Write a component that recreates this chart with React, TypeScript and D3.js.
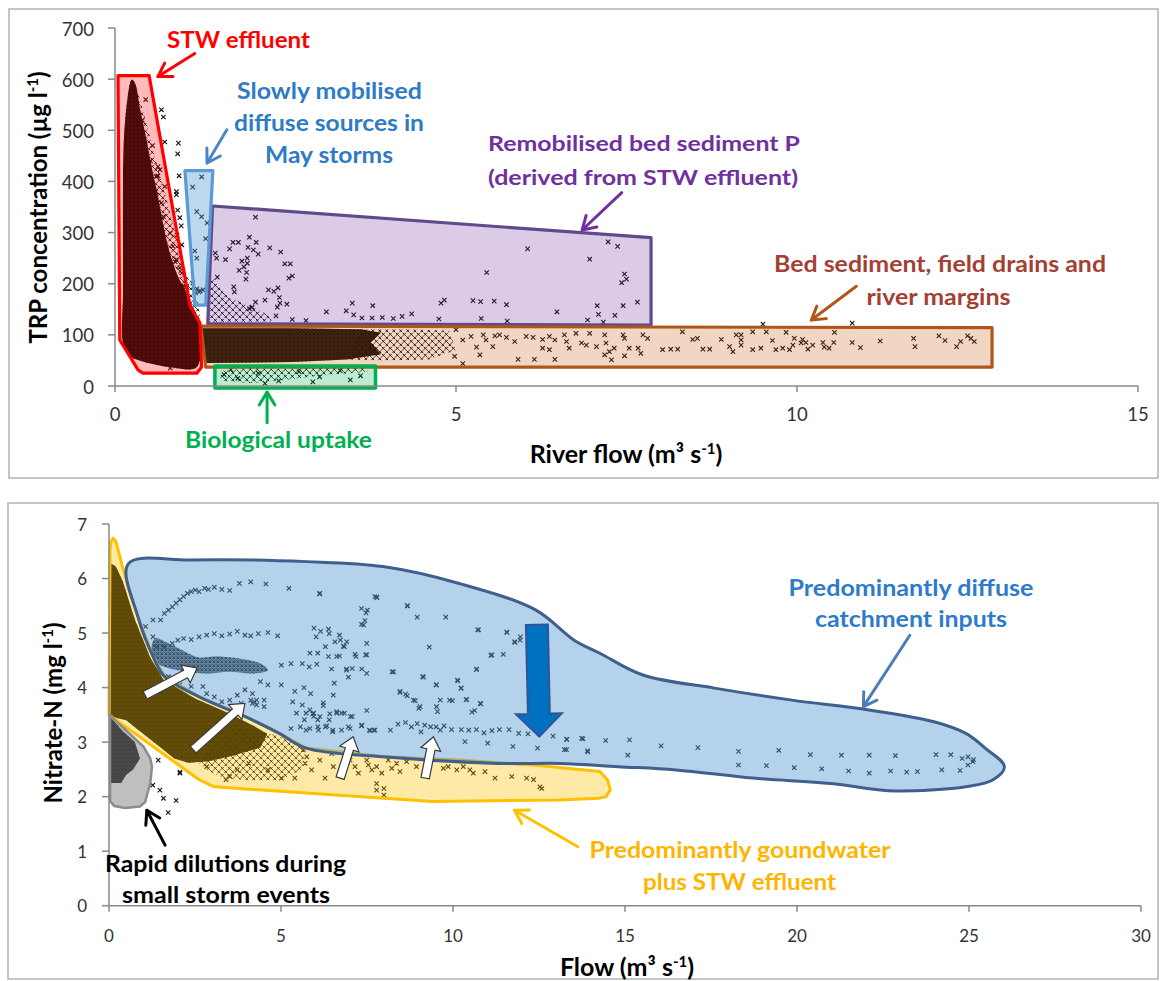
import React from 'react';
import * as d3 from 'd3';

type P = [number, number];

// ---------------- TOP PANEL DATA (x: river flow m3/s, y: TRP ug/l) ----------------
const topXTicks = [0, 5, 10, 15];
const topYTicks = [0, 100, 200, 300, 400, 500, 600, 700];

// outlines of the dense masses of overlapping markers
const stwCore: P[] = [[0.245,599],[0.15,520],[0.12,440],[0.117,378],[0.117,182],[0.117,84],[0.2,60],[0.41,48],[0.81,37],[1.2,37],[1.22,129],[1.1,165],[1.05,182],[0.92,215],[0.78,272],[0.7,320],[0.62,378],[0.55,420],[0.47,476],[0.37,540],[0.29,593]];
const stwHalo: P[] = [[0.3,590],[0.45,520],[0.6,440],[0.75,370],[0.9,290],[1.05,220],[1.2,170],[1.25,130],[1.05,182],[0.78,272],[0.62,378],[0.47,476]];
const purpleCore: P[] = [[1.36,205],[1.46,210],[1.56,188],[1.68,172],[1.9,162],[2.09,150],[2.25,138],[2.3,126],[1.36,125]];
const brownCore: P[] = [[1.28,113],[2.6,113],[3.6,111],[3.9,104],[3.75,85],[3.9,62],[3.4,52],[2.6,47],[1.33,45]];
const brownCore2: P[] = [[3.6,111],[4.3,111],[4.9,108],[5.0,70],[4.6,52],[3.9,50],[3.4,52]];
const greenCore: P[] = [[1.55,30],[2.0,35],[2.5,33],[3.0,36],[3.7,38],[3.7,28],[3.0,20],[2.5,12],[2.0,6],[1.55,10]];

const topPoints: P[] = [
  [0.68,540],[0.71,526],[0.73,477],[0.93,475],[0.92,454],[0.94,411],[0.63,429],[0.63,411],[0.9,380],[0.9,374],[0.92,344],[0.95,329],[0.97,313],[0.91,295],[0.98,276],[0.88,243],[0.95,231],[0.83,207],[1.01,196],[0.78,168],[1.05,168],
  [0.66,423],[0.61,410],[0.73,390],[0.68,358],[0.71,331],[0.81,299],[0.85,273],[0.9,247],[0.98,221],[1.05,194],[0.45,560],[0.4,520],[0.55,470],[0.52,440],[0.6,380],[0.7,300],[0.75,260],[0.8,230],[0.95,180],[1.1,150],[1.15,140],[1.12,130],[0.81,35],[0.88,39],
  [1.14,389],[1.27,409],[1.2,341],[1.27,331],[1.35,319],[1.33,288],[1.17,264],[1.2,250],[1.14,201],[1.2,190],[1.25,186],[1.29,188],[1.23,184],[1.18,182],
  [2.06,330],[1.73,281],[1.81,281],[1.97,291],[2.07,281],[1.68,268],[1.95,271],[2.03,266],[2.1,258],[2.27,270],[2.43,262],[1.47,260],[1.49,250],[1.62,247],[1.86,244],[1.94,250],[1.94,240],[1.89,233],[1.82,226],[1.93,222],[1.92,209],[2.49,239],[2.57,239],[2.55,211],[2.6,215],[1.5,213],[1.74,194],[1.75,184],[2.25,188],[2.33,185],[2.39,192],[2.41,173],[2.42,162],[2.52,160],[2.38,154],[2.2,168],[2.06,164],[2.01,154],[1.97,151],[2.36,137],[2.6,130],[2.8,128],
  [3.1,145],[3.39,147],[3.48,162],[3.5,139],[3.78,157],[3.62,133],[3.77,133],[3.92,134],[4.08,132],[4.21,136],[4.35,141],[4.75,131],[4.78,162],[4.83,168],
  [6.05,268],[5.45,222],[6.96,248],[7.23,282],[7.37,273],[7.47,219],[7.5,209],[7.43,202],[5.25,167],[5.36,165],[5.56,166],[5.74,159],[5.37,132],[5.75,127],[6.48,145],[7.07,157],[7.45,157],[7.66,164],[7.09,140],[7.33,138],[6.93,129],[7.16,125],
  [5.0,110],[5.1,90],[5.22,97],[5.4,100],[5.44,90],[5.57,98],[5.74,95],[5.86,87],[6.03,97],[6.13,95],[6.27,91],[6.37,97],[6.45,90],[6.59,100],[6.62,87],[6.76,103],[6.84,84],[6.91,80],[6.96,103],[7.06,77],[7.18,100],[7.2,84],[7.25,67],[7.32,74],[7.45,100],[7.47,93],[7.54,74],[7.67,74],[7.71,64],[7.74,100],[7.81,93],[8.03,71],[8.15,72],[8.25,72],[8.32,106],[8.47,91],[8.54,93],[8.62,72],[8.72,72],[8.89,91],[9.01,77],[9.11,100],[9.18,100],[9.18,80],[9.06,67],[7.18,61],[7.47,59],[7.28,51],[5.91,52],[6.15,52],[6.45,52],[5.35,61],[4.98,58],[5.1,44],[5.64,100],[6.66,74],[6.37,71],[6.27,74],[5.54,77],[5.3,76],
  [9.5,121],[10.81,123],[9.35,106],[9.55,106],[9.84,105],[10.55,105],[9.18,90],[9.35,71],[9.47,74],[9.64,89],[9.69,71],[9.79,74],[9.89,71],[9.94,80],[9.96,93],[10.06,84],[10.08,91],[10.13,85],[10.16,72],[10.23,80],[10.38,85],[10.4,76],[10.47,74],[10.54,85],[10.81,85],[10.93,75],[11.22,88],[11.71,93],[11.73,77],[12.08,98],[12.17,89],[12.34,77],[12.4,87],[12.5,98],[12.6,87],[12.55,93],
  [1.6,22],[1.8,15],[2.1,25],[2.4,10],[2.7,28],[3.0,18],[3.3,30],[3.6,20],[2.2,5],[2.9,8],[3.45,12],[1.7,32]
];

// source-area polygons (top)
const stwPoly: P[] = [[0.044,607],[0.5,607],[1.1,157],[1.245,123],[1.27,37],[1.2,25],[0.41,25],[0.34,31],[0.07,90]];
const mayPoly: P[] = [[1.025,421],[1.435,421],[1.33,158],[1.17,158]];
const remobPoly: P[] = [[1.43,352],[7.86,290],[7.86,119],[1.36,122]];
const bedPoly: P[] = [[1.26,117],[12.86,114],[12.86,37],[1.33,37]];
const bioPoly: P[] = [[1.465,39],[3.82,39],[3.82,-4],[1.465,-4]];

// ---------------- BOTTOM PANEL DATA (x: flow m3/s, y: nitrate-N mg/l) ----------------
const botXTicks = [0, 5, 10, 15, 20, 25, 30];
const botYTicks = [0, 1, 2, 3, 4, 5, 6, 7];

const yellowCore: P[] = [[0.04,6.28],[0.2,6.22],[0.4,5.95],[0.75,5.25],[1.2,4.55],[1.58,4.15],[2.5,3.8],[3.4,3.55],[4.2,3.3],[4.6,3.15],[4.4,2.9],[3.6,2.75],[2.9,2.65],[2.3,2.62],[1.9,2.7],[1.4,2.95],[0.9,3.2],[0.5,3.4],[0.04,3.47]];
const yellowCore2: P[] = [[3.5,3.35],[5.0,3.1],[5.7,2.88],[5.6,2.5],[5.0,2.3],[4.0,2.3],[3.3,2.35],[2.8,2.5],[2.6,2.6]];
const grayCore: P[] = [[0.05,3.45],[0.4,3.2],[0.75,3.0],[0.9,2.7],[0.7,2.5],[0.5,2.4],[0.35,2.25],[0.05,2.25]];
const blueCore: P[] = [[1.24,4.75],[1.35,4.9],[1.7,4.82],[2.2,4.66],[2.6,4.55],[3.06,4.57],[3.73,4.54],[4.4,4.44],[4.62,4.32],[4.17,4.26],[3.51,4.29],[2.84,4.26],[2.17,4.3],[1.61,4.38],[1.3,4.5]];

const botPoints: P[] = [
  [1.06,5.12],[1.28,5.24],[1.5,5.24],[1.61,5.36],[1.73,5.42],[1.84,5.48],[1.95,5.55],[2.06,5.61],[2.17,5.67],[2.28,5.73],[2.39,5.76],[2.51,5.79],[2.62,5.76],[2.78,5.82],[2.89,5.8],[3.06,5.84],[3.28,5.8],[3.51,5.78],[3.79,5.91],[4.12,5.94],[4.56,5.9],[5.23,5.82],[6.12,5.72],[7.79,5.65],
  [1.28,4.93],[1.39,4.75],[1.61,4.75],[1.84,4.81],[2.0,4.87],[2.17,4.9],[2.39,4.88],[2.62,4.93],[2.84,4.96],[3.06,4.99],[3.28,4.95],[3.51,4.98],[3.73,5.03],[3.95,4.96],[4.12,4.95],[4.34,4.99],[4.62,5.01],[4.9,4.95],
  [1.5,4.26],[1.73,4.2],[1.95,4.11],[2.06,4.05],[2.39,4.02],[2.73,4.02],[2.84,3.89],[3.06,3.83],[3.28,3.74],[3.51,3.77],[3.73,3.86],[3.84,3.71],[3.95,3.96],[4.17,3.89],[4.29,3.77],[4.4,4.11],[4.51,3.65],[4.51,3.77],[4.62,4.05],[5.01,4.05],[5.01,4.41],[5.34,3.74],[5.4,3.93],[5.45,3.53],[5.62,3.68],[5.68,3.41],[5.73,3.53],[5.84,3.59],[5.95,3.47],[6.07,3.41],[5.29,4.44],[5.62,4.44],[5.84,4.63],[6.07,4.63],[6.29,4.75],[6.4,4.99],[6.62,4.57],[6.73,4.87],[6.84,4.75],[6.9,4.32],[7.07,4.35],[7.18,4.57],[7.46,4.6],[7.49,4.81],[7.51,5.42],[7.4,5.15],[7.73,5.67],[8.68,5.5],[8.96,5.29],[9.79,5.29],[8.23,4.29],[8.46,3.93],[8.62,3.88],[8.85,3.77],[9.01,3.62],[9.12,4.2],[9.51,4.05],[9.63,3.77],[9.9,3.77],[10.13,4.14],[10.24,3.99],[10.35,3.01],[10.4,3.78],[10.63,3.58],[10.68,4.33],[10.74,5.06],[10.79,3.71],[11.01,2.98],[11.13,4.6],[11.46,4.61],[11.57,5.01],[11.79,4.84],[11.96,4.93],[11.74,2.92],[12.46,2.89],[12.91,3.11],[13.3,3.05],[13.74,3.07],[13.91,2.84],[13.3,2.86],
  [8.18,3.22],[8.4,3.33],[8.62,3.36],[8.79,3.28],[8.96,3.34],[9.07,3.19],[9.18,3.31],[9.35,3.28],[9.51,3.28],[9.63,3.22],[9.74,3.3],[9.96,3.23],[10.24,3.23],[10.46,3.22],[10.68,3.23],[10.9,3.17],[11.13,3.21],[11.35,3.23],[11.63,3.23],[11.91,3.16],[12.18,3.15],
  [5.29,3.25],[5.56,3.28],[5.73,3.22],[5.95,3.53],[6.07,3.28],[6.29,3.28],[6.4,3.41],[6.51,3.22],[6.62,3.53],[6.84,3.53],[6.96,3.28],[7.07,3.47],[7.35,3.31],[7.57,3.22],[7.73,3.22],
  [4.12,3.77],[4.17,3.71],[4.23,3.74],[4.29,3.68],
  [13.31,3.05],[13.78,3.06],[14.44,3.03],[15.13,3.04],[16.05,2.93],[17.12,2.9],[18.3,2.83],[19.47,2.85],[20.39,2.77],[21.29,2.76],[22.1,2.76],[22.86,2.75],[24.04,2.77],[24.47,2.77],[24.8,2.7],[24.97,2.73],[25.13,2.68],[13.24,2.86],[13.92,2.82],[15.08,2.76],[18.3,2.58],[19.11,2.57],[19.92,2.53],[20.72,2.51],[21.5,2.47],[22.1,2.43],[22.72,2.47],[23.19,2.45],[23.5,2.46],[24.21,2.49],[24.74,2.48],[24.97,2.58],[25.11,2.64],
  [6.13,5.73],[7.78,5.66],[8.67,5.5],[7.34,5.45],[7.47,5.37],[7.44,5.23],[7.34,5.16],[10.72,5.06],[11.56,5.02],[11.8,4.83],[11.95,4.87],[11.1,4.59],[9.31,4.74],[10.69,4.34],[9.14,4.19],[9.52,4.05],[10.14,4.12],[10.23,3.99],[8.46,3.91],[8.67,3.85],[8.9,3.76],[9.04,3.65],[9.52,3.65],[9.55,3.56],[9.98,3.76],[10.38,3.78],[10.81,3.7],[10.55,3.55],[8.27,4.29],
  [5.96,5.09],[6.15,5.03],[6.38,5.07],[6.02,4.93],[6.91,4.84],[6.7,4.96],[6.57,4.84],[6.81,4.76],[6.38,4.57],[6.7,4.58],[7.15,4.61],[7.49,4.6],[5.82,4.38],[6.04,4.43],[6.47,4.34],[6.91,4.34],[7.35,4.34],[7.49,4.26],[6.96,4.19],[6.55,4.08],[5.67,4.0],[6.52,3.86],[5.86,3.89],[6.23,3.72],[6.23,3.67],[5.92,3.52],[6.13,3.47],[6.42,3.52],[6.62,3.56],[6.76,3.53],[7.02,3.47],[7.49,3.58],[5.84,3.25],[6.09,3.22],[6.33,3.3],[6.5,3.19],[6.76,3.22],[7.01,3.25],[7.34,3.3],[7.59,3.21],[7.7,3.22],
  [5.65,2.86],[5.75,2.73],[5.7,2.61],[5.89,2.49],[6.13,2.67],[6.28,2.34],[6.47,2.79],[6.52,2.55],[6.91,2.82],[7.01,2.67],[7.15,2.55],[7.25,2.43],[7.49,2.67],[7.54,2.58],[7.64,2.49],[7.78,2.55],[7.93,2.43],[8.12,2.67],[8.22,2.52],[8.36,2.61],[8.46,2.46],[8.65,2.64],[8.94,2.55],[9.23,2.61],[9.72,2.52],[9.86,2.55],[10.11,2.49],[10.3,2.55],[10.49,2.49],[10.59,2.43],[10.93,2.46],[11.22,2.34],[11.71,2.37],[12.14,2.34],[12.34,2.31],[12.53,2.18],[12.58,2.15],[7.78,2.24],[7.78,2.12],[7.99,2.15],[7.99,2.03],
  [2.06,2.43],[2.84,2.55],[3.4,2.31],[3.51,2.37],[4.06,2.61],[4.62,2.49],[3.73,2.49],[5.01,2.34],[5.4,2.34],
  [1.48,2.12],[1.58,1.97],[1.95,1.93],[1.72,1.71],[1.27,2.21],[2.06,2.45],[1.43,2.67]
];

const diffusePoly: P[] = [[0.56,6.27],[2.39,6.34],[5.73,6.31],[7.96,6.22],[10.18,5.91],[12.41,5.42],[13.52,4.87],[14.27,4.63],[15.52,4.23],[17.6,3.99],[19.85,3.77],[22.09,3.59],[24.01,3.37],[24.91,3.16],[25.47,2.89],[26.03,2.55],[25.7,2.31],[24.91,2.18],[23.9,2.12],[22.66,2.11],[20.98,2.24],[18.72,2.34],[16.48,2.49],[14.8,2.55],[13.11,2.61],[11.29,2.61],[7.96,2.73],[5.73,2.89],[4.95,3.16],[3.95,3.47],[2.62,3.83],[1.62,4.2],[1.28,4.57],[0.84,5.3]];
const groundPoly: P[] = [[0.03,6.52],[0.06,6.68],[0.12,6.74],[0.2,6.68],[0.39,6.22],[0.84,5.3],[1.28,4.57],[1.62,4.2],[2.62,3.83],[3.95,3.47],[4.95,3.16],[5.73,2.89],[7.96,2.73],[10.18,2.67],[12.5,2.57],[14.27,2.46],[14.5,2.3],[14.57,2.12],[14.45,2.0],[14.24,1.97],[13.11,1.94],[9.4,1.91],[3.06,2.18],[2.62,2.31],[0.0,3.5]];
const stormPoly: P[] = [[0.03,3.49],[1.0,2.92],[1.2,2.7],[1.25,2.55],[1.2,2.25],[1.05,1.9],[0.9,1.82],[0.47,1.79],[0.15,1.83],[0.03,1.92]];

// white block arrows (tail, tip) and the big blue arrow
const whiteArrows: [P, P][] = [[[1.05,3.86],[2.56,4.36]],[[2.45,2.86],[3.95,3.71]],[[6.72,2.34],[7.1,3.1]],[[9.19,2.34],[9.43,3.1]]];
const blueArrow: [P, P] = [[12.44,5.15],[12.51,3.1]];

const FONT = "Lato, 'Open Sans', 'DejaVu Sans', sans-serif";

// scales
const tx = d3.scaleLinear().domain([0, 15]).range([115, 1138]);
const ty = d3.scaleLinear().domain([0, 700]).range([386, 28]);
const bx = d3.scaleLinear().domain([0, 30]).range([109, 1141]);
const by = d3.scaleLinear().domain([0, 7]).range([905.7, 524]);

const mk = (sx: any, sy: any, curve: any = d3.curveLinearClosed) =>
  d3.line<P>().x(d => sx(d[0])).y(d => sy(d[1])).curve(curve);

const topLine = mk(tx, ty);
const topSmooth = mk(tx, ty, d3.curveCatmullRomClosed.alpha(0.5));
const botLine = mk(bx, by);
const botSmooth = mk(bx, by, d3.curveCatmullRomClosed.alpha(0.5));

const X = 'M-2.2,-2.2L2.2,2.2M-2.2,2.2L2.2,-2.2';

function blockArrow(t: P, h: P, w: number, hw: number, hl: number) {
  const dx = h[0] - t[0], dy = h[1] - t[1];
  const L = Math.hypot(dx, dy);
  const ux = dx / L, uy = dy / L, nx = -uy, ny = ux;
  const nk = [h[0] - ux * hl, h[1] - uy * hl];
  const pts = [
    [t[0] + nx * w / 2, t[1] + ny * w / 2],
    [nk[0] + nx * w / 2, nk[1] + ny * w / 2],
    [nk[0] + nx * hw / 2, nk[1] + ny * hw / 2],
    [h[0], h[1]],
    [nk[0] - nx * hw / 2, nk[1] - ny * hw / 2],
    [nk[0] - nx * w / 2, nk[1] - ny * w / 2],
    [t[0] - nx * w / 2, t[1] - ny * w / 2],
  ];
  return 'M' + pts.map(p => p[0].toFixed(1) + ',' + p[1].toFixed(1)).join('L') + 'Z';
}

function LineArrow({ t, h, color, w = 3 }: { t: P; h: P; color: string; w?: number }) {
  const a = Math.atan2(h[1] - t[1], h[0] - t[0]);
  const len = 15, sp = 0.55;
  const p1 = [h[0] - len * Math.cos(a - sp), h[1] - len * Math.sin(a - sp)];
  const p2 = [h[0] - len * Math.cos(a + sp), h[1] - len * Math.sin(a + sp)];
  return (
    <g stroke={color} strokeWidth={w} fill="none" strokeLinecap="round" strokeLinejoin="round">
      <line x1={t[0]} y1={t[1]} x2={h[0]} y2={h[1]} />
      <path d={`M${p1[0]},${p1[1]}L${h[0]},${h[1]}L${p2[0]},${p2[1]}`} />
    </g>
  );
}

function Txt({ x, y, s, w, color, children }: any) {
  return (
    <text x={x} y={y} fontSize={s} fill={color} fontWeight={700} fontFamily={FONT}
      textAnchor="middle" textLength={w} lengthAdjust="spacingAndGlyphs">{children}</text>
  );
}

// a dense cloud: solid mass + texture of markers
const Cloud = ({ d, kind }: { d: string; kind: 'solid' | 'dense' | 'mid' }) => (
  <g>
    {kind === 'solid' && <path d={d} fill="#000" fillOpacity={0.93} />}
    {kind === 'dense' && <path d={d} fill="#000" fillOpacity={0.55} />}
    <path d={d} fill={`url(#${kind === 'mid' ? 'xmid' : 'xdense'})`} />
  </g>
);

export default function App() {
  const Pts = (sx: any, sy: any, pts: P[]) => pts.map((p, i) => (
    <path key={i} d={X} transform={`translate(${sx(p[0]).toFixed(1)},${sy(p[1]).toFixed(1)})`} stroke="#111" strokeWidth={1.1} fill="none" />
  ));
  const tp = (p: P): P => [tx(p[0]), ty(p[1])];
  const bp = (p: P): P => [bx(p[0]), by(p[1])];

  return (
    <svg width={1166} height={981} style={{ position: 'absolute', left: 0, top: 0, background: '#fff' }}>
      <defs>
        <pattern id="xdense" width={4} height={4} patternUnits="userSpaceOnUse">
          <path d="M0.4,0.4L3.2,3.2M0.4,3.2L3.2,0.4" stroke="#000" strokeWidth={1} />
        </pattern>
        <pattern id="xmid" width={7} height={7} patternUnits="userSpaceOnUse">
          <path d="M0.3,0.3L3.3,3.3M0.3,3.3L3.3,0.3M3.8,3.8L6.8,6.8M3.8,6.8L6.8,3.8" stroke="#000" strokeWidth={1} />
        </pattern>
      </defs>
      <rect x={0} y={0} width={1166} height={981} fill="#fff" />
      {/* panel frames */}
      <rect x={9} y={9} width={1149} height={469} fill="none" stroke="#b3b3b3" strokeWidth={1.5} />
      <rect x={8} y={503} width={1150} height={476} fill="none" stroke="#b3b3b3" strokeWidth={1.5} />

      {/* ================= TOP PANEL ================= */}
      <g>
        <Cloud d={topSmooth(stwHalo)!} kind="mid" />
        <Cloud d={topSmooth(stwCore)!} kind="solid" />
        <Cloud d={topLine(purpleCore)!} kind="mid" />
        <Cloud d={topLine(brownCore)!} kind="solid" />
        <Cloud d={topLine(brownCore2)!} kind="mid" />
        <Cloud d={topLine(greenCore)!} kind="mid" />
        {Pts(tx, ty, topPoints)}
        <path d={topLine(remobPoly)!} fill="#7030A0" fillOpacity={0.25} stroke="#5F4B8B" strokeWidth={3.2} strokeLinejoin="round" />
        <path d={topLine(bedPoly)!} fill="#C55A11" fillOpacity={0.25} stroke="#B0561A" strokeWidth={3.2} strokeLinejoin="round" />
        <path d={topLine(mayPoly)!} fill="#5B9BD5" fillOpacity={0.4} stroke="#5B9BD5" strokeWidth={3.2} strokeLinejoin="round" />
        <path d={topLine(stwPoly)!} fill="#FF0000" fillOpacity={0.27} stroke="#FF0000" strokeWidth={3.2} strokeLinejoin="round" />
        <path d={topLine(bioPoly)!} fill="#00B050" fillOpacity={0.25} stroke="#00B050" strokeWidth={3.5} strokeLinejoin="round" />

        {/* axes */}
        <g stroke="#888" strokeWidth={1.5}>
          <line x1={tx(0)} x2={tx(0)} y1={ty(700)} y2={ty(0)} />
          <line x1={tx(0)} x2={tx(15)} y1={ty(0)} y2={ty(0)} />
          {topYTicks.map(v => <line key={v} x1={tx(0) - 7} x2={tx(0)} y1={ty(v)} y2={ty(v)} />)}
          {topXTicks.map(v => <line key={v} x1={tx(v)} x2={tx(v)} y1={ty(0)} y2={ty(0) + 6} />)}
        </g>
        <g fontFamily={FONT} fontSize={18.5} fill="#333">
          {topYTicks.map(v => <text key={v} x={94} y={ty(v) + 7.5} textAnchor="end">{v}</text>)}
          {topXTicks.map(v => <text key={v} x={tx(v)} y={420.5} textAnchor="middle">{v}</text>)}
        </g>
        <text transform="translate(46.7,207.5) rotate(-90)" textAnchor="middle" fontFamily={FONT} fontWeight={700} fontSize={24} fill="#000">
          TRP concentration (µg l<tspan dy={-9} fontSize={15}>-1</tspan><tspan dy={9}>)</tspan>
        </text>
        <text x={626} y={463} textAnchor="middle" fontFamily={FONT} fontWeight={700} fontSize={25} fill="#000">
          River flow (m³ s<tspan dy={-9} fontSize={15}>-1</tspan><tspan dy={9}>)</tspan>
        </text>

        {/* annotations */}
        <LineArrow t={tp([1.17, 650])} h={tp([0.63, 605])} color="#FF0000" />
        <LineArrow t={tp([1.64, 501])} h={tp([1.35, 436])} color="#4A86C5" />
        <LineArrow t={tp([7.43, 378])} h={tp([6.85, 305])} color="#7030A0" />
        <LineArrow t={tp([10.87, 195])} h={tp([10.21, 129])} color="#B0561A" />
        <LineArrow t={tp([2.23, -72])} h={tp([2.23, -12])} color="#00B050" />

        <Txt x={238.5} y={48} s={23} w={143} color="#FF0000">STW effluent</Txt>
        <Txt x={329.5} y={99} s={22.5} w={185} color="#2E7BC4">Slowly mobilised</Txt>
        <Txt x={329} y={131} s={22.5} w={190} color="#2E7BC4">diffuse sources in</Txt>
        <Txt x={329} y={162.7} s={22.5} w={128} color="#2E7BC4">May storms</Txt>
        <Txt x={644} y={150.7} s={21} w={312} color="#7030A0">Remobilised bed sediment P</Txt>
        <Txt x={643} y={185} s={21} w={310} color="#7030A0">(derived from STW effluent)</Txt>
        <Txt x={940} y={271.7} s={22} w={332} color="#A33F35">Bed sediment, field drains and</Txt>
        <Txt x={938.5} y={305} s={22} w={144} color="#A33F35">river margins</Txt>
        <Txt x={278.5} y={448.3} s={23} w={187} color="#00B050">Biological uptake</Txt>
      </g>

      {/* ================= BOTTOM PANEL ================= */}
      <g>
        <Cloud d={botLine(yellowCore)!} kind="solid" />
        <Cloud d={botLine(yellowCore2)!} kind="mid" />
        <Cloud d={botLine(grayCore)!} kind="solid" />
        <Cloud d={botSmooth(blueCore)!} kind="dense" />
        {Pts(bx, by, botPoints)}
        <path d={botLine(groundPoly)!} fill="#FFC000" fillOpacity={0.35} stroke="#FFC000" strokeWidth={3} strokeLinejoin="round" />
        <path d={botSmooth(diffusePoly)!} fill="#5B9BD5" fillOpacity={0.45} stroke="#3F5F8C" strokeWidth={3} strokeLinejoin="round" />
        <path d={botLine(stormPoly)!} fill="#808080" fillOpacity={0.5} stroke="#8C8C8C" strokeWidth={2.5} strokeLinejoin="round" />

        {whiteArrows.map((a, i) => (
          <path key={i} d={blockArrow(bp(a[0]), bp(a[1]), 8.5, 20, 13)} fill="#fff" stroke="#3a3a3a" strokeWidth={1.2} strokeLinejoin="miter" />
        ))}
        <path d={blockArrow(bp(blueArrow[0]), bp(blueArrow[1]), 22, 46, 23)} fill="#0070C0" stroke="#2F5597" strokeWidth={2} />

        <g stroke="#888" strokeWidth={1.5}>
          <line x1={bx(0)} x2={bx(0)} y1={by(7)} y2={by(0)} />
          <line x1={bx(0)} x2={bx(30)} y1={by(0)} y2={by(0)} />
          {botYTicks.map(v => <line key={v} x1={bx(0) - 7} x2={bx(0)} y1={by(v)} y2={by(v)} />)}
          {botXTicks.map(v => <line key={v} x1={bx(v)} x2={bx(v)} y1={by(0)} y2={by(0) + 6} />)}
        </g>
        <g fontFamily={FONT} fontSize={17} fill="#333">
          {botYTicks.map(v => <text key={v} x={87} y={by(v) + 6.5} textAnchor="end">{v}</text>)}
          {botXTicks.map(v => <text key={v} x={bx(v)} y={941.5} textAnchor="middle">{v}</text>)}
        </g>
        <text transform="translate(62,713) rotate(-90)" textAnchor="middle" fontFamily={FONT} fontWeight={700} fontSize={24} fill="#000">
          Nitrate-N (mg l<tspan dy={-9} fontSize={15}>-1</tspan><tspan dy={9}>)</tspan>
        </text>
        <text x={627} y={976} textAnchor="middle" fontFamily={FONT} fontWeight={700} fontSize={25} fill="#000">
          Flow (m³ s<tspan dy={-9} fontSize={15}>-1</tspan><tspan dy={9}>)</tspan>
        </text>

        <LineArrow t={bp([1.63, 1.11])} h={bp([1.1, 1.75])} color="#000" />
        <LineArrow t={bp([13.63, 1.08])} h={bp([11.79, 1.75])} color="#FFC000" />
        <LineArrow t={bp([23.28, 4.96])} h={bp([21.93, 3.65])} color="#4A7EBB" />

        <Txt x={911} y={596} s={23} w={245} color="#2E7BC9">Predominantly diffuse</Txt>
        <Txt x={911} y={627} s={23} w={192} color="#2E7BC9">catchment inputs</Txt>
        <Txt x={740} y={858.3} s={23} w={301} color="#FFB400">Predominantly goundwater</Txt>
        <Txt x={739.5} y={890} s={23} w={193} color="#FFB400">plus STW effluent</Txt>
        <Txt x={225.5} y={871.7} s={23} w={241} color="#000">Rapid dilutions during</Txt>
        <Txt x={226} y={903.3} s={23} w={208} color="#000">small storm events</Txt>
      </g>
    </svg>
  );
}
